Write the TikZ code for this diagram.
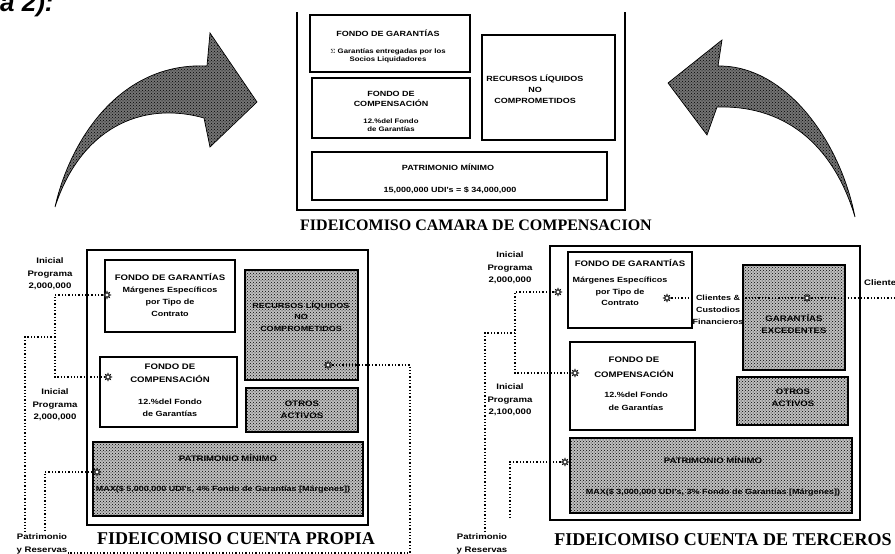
\documentclass[tikz,border=0pt]{standalone}
\usepackage{fontspec}
\setmainfont{Liberation Serif}
\setsansfont{Liberation Sans}
\newfontfamily\bxfont[FakeStretch=1.2]{Liberation Sans}
\usetikzlibrary{patterns,shapes.geometric,fit}
\begin{document}
\begin{tikzpicture}[x=1pt,y=-1pt,
  box/.style={draw=black, line width=1.2pt, inner sep=0pt},
  outerbox/.style={draw=black, line width=1.4pt, inner sep=0pt},
  shadebox/.style={box, fill=gray!50, postaction={pattern=crosshatch dots, pattern color=black}},
  hd/.style={font=\bxfont\bfseries\fontsize{8}{11}\selectfont, inner sep=0pt, align=center},
  dt/.style={font=\bxfont\bfseries\fontsize{7.5}{12}\selectfont, inner sep=0pt, align=center},
  hdt/.style={font=\bxfont\bfseries\fontsize{7.5}{10}\selectfont, inner sep=0pt, align=center},
  dtt/.style={font=\bxfont\bfseries\fontsize{6.5}{8}\selectfont, inner sep=0pt, align=center},
  lab/.style={font=\bxfont\bfseries\fontsize{8}{12.5}\selectfont, inner sep=0pt, align=center},
  ttl/.style={font=\rmfamily\bfseries\fontsize{18}{20}\selectfont, inner sep=0pt},
  dotl/.style={line width=1.2pt, dash pattern=on 1.3pt off 2pt},
  mk/.style={star, star points=8, star point ratio=2.2, minimum size=7pt, inner sep=0pt, draw, line width=0.5pt, fill=white},
  bigarrow/.style={fill=black!55, draw=black, line width=0.7pt, postaction={pattern=crosshatch dots, pattern color=black}}
]
\useasboundingbox (0,0) rectangle (895,554);
\clip (0,0) rectangle (895,554);

% heading fragment
\node[font=\sffamily\bfseries\itshape\fontsize{26}{28}\selectfont, anchor=base west, inner sep=0pt] (frag) at (0,12) {a 2):};

% big curved arrows
\path[bigarrow] (55,207) .. controls (70,140) and (120,62) .. (207,66) -- (210,33) -- (257,102) -- (210,147) -- (204,118) .. controls (140,100) and (80,130) .. (55,207) -- cycle;
\path[bigarrow] (668,83) -- (722,40) -- (718,66) .. controls (785,65) and (840,140) .. (855,217) .. controls (835,150) and (790,105) .. (717,107) -- (707,135) -- cycle;

% ===== top panel: camara de compensacion =====
\draw[line width=1.4pt] (297,12) -- (297,210) -- (625,210) -- (625,12);
\node[box, fit={(310,15)(470,72)}] (tg) {};
\node[box, fit={(312,78)(470,138)}] (tc) {};
\node[box, fit={(482,35)(615,140)}] (tr) {};
\node[box, fit={(312,152)(607,200)}] (tp) {};
\node[hdt] (tg1) at (388,33) {FONDO DE GARANTÍAS};
\node[dtt] (tg2) at (388,56) {$\Sigma$ Garantías entregadas por los\\Socios Liquidadores};
\node[hdt] (tc1) at (391,99) {FONDO DE\\COMPENSACIÓN};
\node[dtt] (tc2) at (391,125) {12.\%del Fondo\\de Garantías};
\node[hdt, font=\bxfont\bfseries\fontsize{7.5}{11}\selectfont] (tr1) at (535,89) {RECURSOS LÍQUIDOS\\NO\\COMPROMETIDOS};
\node[hdt] (tp1) at (448,167) {PATRIMONIO MÍNIMO};
\node[hdt] (tp2) at (450,190) {15,000,000 UDI's = \$ 34,000,000};
\node[ttl, font=\rmfamily\bfseries\fontsize{16}{18}\selectfont] (t0) at (476,225) {FIDEICOMISO CAMARA DE COMPENSACION};

% ===== left panel: cuenta propia =====
\node[outerbox, fit={(87,250)(368,525)}] (lp) {};
\node[box, fill=white, fit={(105,260)(235,332)}] (lg) {};
\node[box, fill=white, fit={(100,357)(237,427)}] (lc) {};
\node[shadebox, fit={(245,270)(358,380)}] (lr) {};
\node[shadebox, fit={(246,388)(358,432)}] (lo) {};
\node[shadebox, fit={(93,442)(363,516)}] (lpm) {};

% ===== right panel: cuenta de terceros =====
\node[outerbox, fit={(550,246)(860,520)}] (rp) {};
\node[box, fill=white, fit={(568,252)(692,328)}] (rg) {};
\node[box, fill=white, fit={(570,342)(695,430)}] (rc) {};
\node[shadebox, fit={(743,265)(845,370)}] (rgx) {};
\node[shadebox, fit={(737,377)(848,425)}] (ro) {};
\node[shadebox, fit={(570,438)(852,513)}] (rpm) {};

% outside labels
\node[lab] (li1) at (50,274) {Inicial\\Programa\\2,000,000};
\node[lab] (li2) at (55,405) {Inicial\\Programa\\2,000,000};
\node[lab] (lpr) at (42,544) {Patrimonio\\y Reservas};
\node[lab] (ri1) at (510,268) {Inicial\\Programa\\2,000,000};
\node[lab] (ri2) at (510,400) {Inicial\\Programa\\2,100,000};
\node[lab] (rpr) at (482,544) {Patrimonio\\y Reservas};
\node[lab, font=\bxfont\bfseries\fontsize{7.5}{12}\selectfont] (rcl) at (718,310) {Clientes \&\\Custodios\\Financieros};
\node[lab, anchor=west] (rcl2) at (864,283) {Clientes};

% markers
\node[mk] (m1) at (107,295) {};
\node[mk] (m2) at (108,377) {};
\node[mk] (m3) at (97,472) {};
\node[mk] (m4) at (328,365) {};
\node[mk] (m5) at (558,292) {};
\node[mk] (m6) at (575,373) {};
\node[mk] (m7) at (565,462) {};
\node[mk] (m8) at (667,298) {};
\node[mk] (m9) at (807,298) {};

% connector bend points
\coordinate (a1) at (55,295);
\coordinate (a2) at (55,377);
\coordinate (a3) at (55,337);
\coordinate (a4) at (25,337);
\coordinate (a5) at (25,532);
\coordinate (b1) at (45,472);
\coordinate (b2) at (45,532);
\coordinate (c1) at (410,365);
\coordinate (c2) at (410,553);
\coordinate (c3) at (68,553);
\coordinate (d1) at (515,292);
\coordinate (d2) at (515,373);
\coordinate (d3) at (515,333);
\coordinate (d4) at (485,333);
\coordinate (d5) at (485,532);
\coordinate (e1) at (510,462);
\coordinate (e2) at (510,520);
\coordinate (f1) at (895,298);

% dotted connectors
\draw[dotl] (m1) -- (a1) -- (a2) -- (m2);
\draw[dotl] (a3) -- (a4) -- (a5);
\draw[dotl] (m3) -- (b1) -- (b2);
\draw[dotl] (m4) -- (c1) -- (c2) -- (c3);
\draw[dotl] (m5) -- (d1) -- (d2) -- (m6);
\draw[dotl] (d3) -- (d4) -- (d5);
\draw[dotl] (m7) -- (e1) -- (e2);
\draw[dotl] (m8) -- (m8 -| rcl.west);
\draw[dotl] (m9) -- (m9 -| rcl.east);
\draw[dotl] (m9) -- (f1);
\foreach \m in {m1,m2,m3,m4,m5,m6,m7,m8,m9} \node[mk] at (\m) {};

% texts left panel
\node[hd] (lg1) at (170,277) {FONDO DE GARANTÍAS};
\node[dt] (lg2) at (170,302) {Márgenes Específicos\\por Tipo de\\Contrato};
\node[hd, font=\bxfont\bfseries\fontsize{8}{13}\selectfont] (lc1) at (170,373.5) {FONDO DE\\COMPENSACIÓN};
\node[dt] (lc2) at (170,407.5) {12.\%del Fondo\\de Garantías};
\node[hd, font=\bxfont\bfseries\fontsize{7.5}{11.5}\selectfont] (lr1) at (301,316.5) {RECURSOS LÍQUIDOS\\NO\\COMPROMETIDOS};
\node[hd, font=\bxfont\bfseries\fontsize{8}{12}\selectfont] (lo1) at (302,410) {OTROS\\ACTIVOS};
\node[hd] (lpm1) at (228,458) {PATRIMONIO MÍNIMO};
\node[hd, font=\bxfont\bfseries\fontsize{7.5}{9}\selectfont] (lpm2) at (223,490) {MAX(\$ 5,000,000 UDI's, 4\% Fondo de Garantías [Márgenes])};
\node[ttl] (t1) at (236,538.5) {FIDEICOMISO CUENTA PROPIA};

% texts right panel
\node[hd] (rg1) at (630,263) {FONDO DE GARANTÍAS};
\node[dt, font=\bxfont\bfseries\fontsize{7.5}{11.5}\selectfont] (rg2) at (620,291.5) {Márgenes Específicos\\por Tipo de\\Contrato};
\node[hd, font=\bxfont\bfseries\fontsize{8}{15}\selectfont] (rc1) at (634,367.5) {FONDO DE\\COMPENSACIÓN};
\node[dt, font=\bxfont\bfseries\fontsize{7.5}{13}\selectfont] (rc2) at (636,401.5) {12.\%del Fondo\\de Garantías};
\node[hd, font=\bxfont\bfseries\fontsize{8}{12}\selectfont] (rgx1) at (794,324) {GARANTÍAS\\EXCEDENTES};
\node[hd, font=\bxfont\bfseries\fontsize{8}{12}\selectfont] (ro1) at (793,398) {OTROS\\ACTIVOS};
\node[hd] (rpm1) at (713,460) {PATRIMONIO MÍNIMO};
\node[hd, font=\bxfont\bfseries\fontsize{7.5}{9}\selectfont] (rpm2) at (713,493) {MAX(\$ 3,000,000 UDI's, 3\% Fondo de Garantías [Márgenes])};
\node[ttl] (t2) at (723,540) {FIDEICOMISO CUENTA DE TERCEROS};
\end{tikzpicture}
\end{document}
